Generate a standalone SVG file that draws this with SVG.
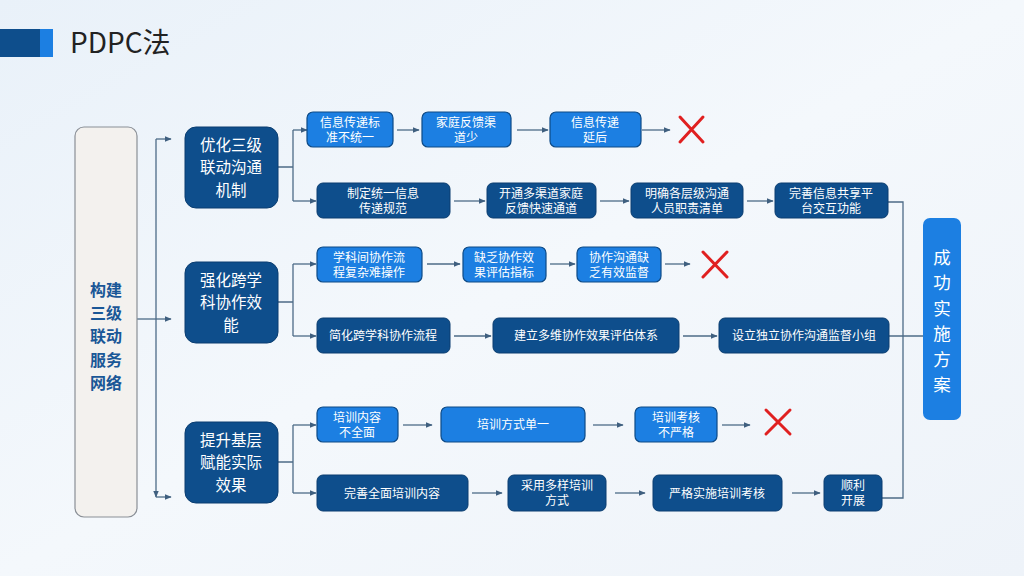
<svg xmlns="http://www.w3.org/2000/svg" width="1024" height="576" viewBox="0 0 1024 576">
<defs>
<linearGradient id="bg" x1="0" y1="0" x2="1" y2="1">
<stop offset="0" stop-color="#e9f1f9"/>
<stop offset="0.5" stop-color="#f4f8fc"/>
<stop offset="1" stop-color="#eef3f9"/>
</linearGradient>
<marker id="ah" viewBox="0 0 10 10" refX="9" refY="5" markerWidth="7" markerHeight="7" orient="auto" markerUnits="userSpaceOnUse">
<path d="M0,1 L10,5 L0,9 z" fill="#3f5f7f"/>
</marker>
<style>
.cn{fill:none;stroke:#4d6b87;stroke-width:1.3}
.a{marker-end:url(#ah)}
.dk{fill:#0e4e8c;stroke:#0a3d70;stroke-width:1}
.lt{fill:#1c7fe2;stroke:#0d4a86;stroke-width:1.2}
.cat{fill:#0e4e8c;stroke:#0a3d70;stroke-width:1}
.t{font-family:"Noto Sans CJK SC","Noto Sans",sans-serif;fill:#ffffff;font-size:12px;text-anchor:middle}
.tc{font-family:"Noto Sans CJK SC","Noto Sans",sans-serif;fill:#ffffff;font-size:15.5px;text-anchor:middle}
.x{stroke:#e02020;stroke-width:3;fill:none;stroke-linecap:round}
</style>
</defs>
<rect x="0" y="0" width="1024" height="576" fill="url(#bg)"/>
<g id="title">
<rect x="0" y="29" width="40" height="28" fill="#0e4e8c"/>
<rect x="40" y="29" width="13" height="28" fill="#1c7fe2"/>
<text x="70" y="53" font-family="'Noto Sans CJK SC','Noto Sans',sans-serif" font-size="28" fill="#222222">PDPC法</text>
</g>
<g id="connectors">
<path class="cn" d="M137,319 H156"/>
<path class="cn a" d="M156,139 V497"/>
<path class="cn a" d="M156,139 H171"/>
<path class="cn a" d="M156,319 H171"/>
<path class="cn a" d="M156,497 H171"/>
<path class="cn" d="M278,167 H293 M293,130 V201"/>
<path class="cn a" d="M293,130 H307"/>
<path class="cn a" d="M293,201 H316"/>
<path class="cn" d="M278,302 H293 M293,264 V336"/>
<path class="cn a" d="M293,264 H316"/>
<path class="cn a" d="M293,336 H316"/>
<path class="cn" d="M278,462 H293 M293,425 V493"/>
<path class="cn a" d="M293,425 H316"/>
<path class="cn a" d="M293,493 H316"/>
<path class="cn a" d="M397,130 H419"/>
<path class="cn a" d="M517,130 H548"/>
<path class="cn a" d="M642,130 H670"/>
<path class="cn a" d="M454,201 H485"/>
<path class="cn a" d="M600,201 H629"/>
<path class="cn a" d="M747,201 H773"/>
<path class="cn" d="M888,202 H903 V498 H882"/>
<path class="cn a" d="M427,264 H460"/>
<path class="cn a" d="M550,264 H575"/>
<path class="cn a" d="M665,264 H690"/>
<path class="cn a" d="M454,336 H491"/>
<path class="cn a" d="M683,336 H717"/>
<path class="cn" d="M889,336 H923"/>
<path class="cn a" d="M403,425 H432"/>
<path class="cn a" d="M593,425 H623"/>
<path class="cn a" d="M722,425 H750"/>
<path class="cn a" d="M472,493 H502"/>
<path class="cn a" d="M615,493 H645"/>
<path class="cn a" d="M792,493 H820"/>
</g>
<g id="root">
<rect x="75" y="127" width="62" height="390" rx="9" fill="#f3f1ee" stroke="#8a8f96" stroke-width="1.2"/>
<text font-family="'Noto Sans CJK SC','Noto Sans',sans-serif" font-size="16" font-weight="bold" fill="#1a5797" text-anchor="middle"><tspan x="106" y="296">构建</tspan><tspan x="106" y="319.2">三级</tspan><tspan x="106" y="342.4">联动</tspan><tspan x="106" y="365.6">服务</tspan><tspan x="106" y="388.8">网络</tspan></text>
</g>
<g id="cat1"><rect class="cat" x="185" y="127" width="93" height="81" rx="11"/>
<text class="tc"><tspan x="231" y="150.9">优化三级</tspan><tspan x="231" y="173.4">联动沟通</tspan><tspan x="231" y="195.9">机制</tspan></text></g>
<g id="cat2"><rect class="cat" x="185" y="262" width="93" height="81" rx="11"/>
<text class="tc"><tspan x="231" y="285.9">强化跨学</tspan><tspan x="231" y="308.4">科协作效</tspan><tspan x="231" y="330.9">能</tspan></text></g>
<g id="cat3"><rect class="cat" x="185" y="422" width="93" height="81" rx="11"/>
<text class="tc"><tspan x="231" y="445.9">提升基层</tspan><tspan x="231" y="468.4">赋能实际</tspan><tspan x="231" y="490.9">效果</tspan></text></g>

<g id="p1a"><rect class="lt" x="307" y="112" width="86" height="35" rx="6"/><text class="t"><tspan x="350" y="127">信息传递标</tspan><tspan x="350" y="142">准不统一</tspan></text></g>
<g id="p1b"><rect class="lt" x="422" y="112" width="89" height="35" rx="6"/><text class="t"><tspan x="466" y="127">家庭反馈渠</tspan><tspan x="466" y="142">道少</tspan></text></g>
<g id="p1c"><rect class="lt" x="550" y="112" width="91" height="35" rx="6"/><text class="t"><tspan x="595" y="127">信息传递</tspan><tspan x="595" y="142">延后</tspan></text></g>
<g id="x1"><path class="x" d="M680,117 L703,142 M703,117 L680,142"/></g>
<g id="s1a"><rect class="dk" x="317" y="183" width="133" height="35" rx="6"/><text class="t"><tspan x="383" y="198">制定统一信息</tspan><tspan x="383" y="213">传递规范</tspan></text></g>
<g id="s1b"><rect class="dk" x="487" y="183" width="109" height="35" rx="6"/><text class="t"><tspan x="541" y="198">开通多渠道家庭</tspan><tspan x="541" y="213">反馈快速通道</tspan></text></g>
<g id="s1c"><rect class="dk" x="631" y="183" width="112" height="35" rx="6"/><text class="t"><tspan x="687" y="198">明确各层级沟通</tspan><tspan x="687" y="213">人员职责清单</tspan></text></g>
<g id="s1d"><rect class="dk" x="775" y="183" width="113" height="35" rx="6"/><text class="t"><tspan x="831" y="198">完善信息共享平</tspan><tspan x="831" y="213">台交互功能</tspan></text></g>

<g id="p2a"><rect class="lt" x="317" y="247" width="105" height="35" rx="6"/><text class="t"><tspan x="369" y="262">学科间协作流</tspan><tspan x="369" y="277">程复杂难操作</tspan></text></g>
<g id="p2b"><rect class="lt" x="463" y="247" width="83" height="35" rx="6"/><text class="t"><tspan x="504" y="262">缺乏协作效</tspan><tspan x="504" y="277">果评估指标</tspan></text></g>
<g id="p2c"><rect class="lt" x="577" y="247" width="84" height="35" rx="6"/><text class="t"><tspan x="619" y="262">协作沟通缺</tspan><tspan x="619" y="277">乏有效监督</tspan></text></g>
<g id="x2"><path class="x" d="M703,252 L727,277 M727,252 L703,277"/></g>
<g id="s2a"><rect class="dk" x="317" y="318" width="133" height="35" rx="6"/><text class="t" x="383" y="340">简化跨学科协作流程</text></g>
<g id="s2b"><rect class="dk" x="493" y="318" width="186" height="35" rx="6"/><text class="t" x="586" y="340">建立多维协作效果评估体系</text></g>
<g id="s2c"><rect class="dk" x="719" y="318" width="170" height="35" rx="6"/><text class="t" x="804" y="340">设立独立协作沟通监督小组</text></g>

<g id="p3a"><rect class="lt" x="317" y="407" width="81" height="35" rx="6"/><text class="t"><tspan x="357" y="422">培训内容</tspan><tspan x="357" y="437">不全面</tspan></text></g>
<g id="p3b"><rect class="lt" x="441" y="407" width="144" height="35" rx="6"/><text class="t" x="513" y="429">培训方式单一</text></g>
<g id="p3c"><rect class="lt" x="635" y="407" width="82" height="35" rx="6"/><text class="t"><tspan x="676" y="422">培训考核</tspan><tspan x="676" y="437">不严格</tspan></text></g>
<g id="x3"><path class="x" d="M766,410 L790,434 M790,410 L766,434"/></g>
<g id="s3a"><rect class="dk" x="317" y="475" width="151" height="36" rx="6"/><text class="t" x="392" y="498">完善全面培训内容</text></g>
<g id="s3b"><rect class="dk" x="508" y="475" width="98" height="36" rx="6"/><text class="t"><tspan x="557" y="490">采用多样培训</tspan><tspan x="557" y="505">方式</tspan></text></g>
<g id="s3c"><rect class="dk" x="653" y="475" width="129" height="36" rx="6"/><text class="t" x="717" y="498">严格实施培训考核</text></g>
<g id="s3d"><rect class="dk" x="824" y="475" width="58" height="36" rx="6"/><text class="t"><tspan x="853" y="490">顺利</tspan><tspan x="853" y="505">开展</tspan></text></g>

<g id="goal"><rect x="923" y="218" width="38" height="202" rx="7" fill="#1c7fe2"/>
<text font-family="'Noto Sans CJK SC','Noto Sans',sans-serif" font-size="17.5" fill="#ffffff" text-anchor="middle"><tspan x="942" y="263.7">成</tspan><tspan x="942" y="289.2">功</tspan><tspan x="942" y="314.7">实</tspan><tspan x="942" y="340.2">施</tspan><tspan x="942" y="365.7">方</tspan><tspan x="942" y="391.2">案</tspan></text>
</g>
</svg>
